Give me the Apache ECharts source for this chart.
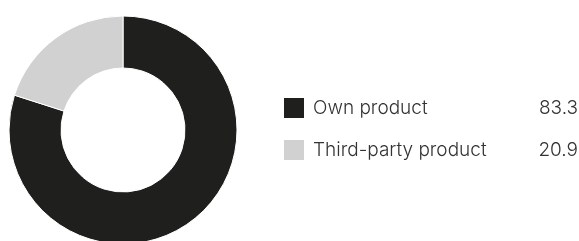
<!DOCTYPE html>
<html>
<head>
<meta charset="utf-8">
<script src="https://cdn.jsdelivr.net/npm/echarts@6/dist/echarts.min.js"></script>
<style>
	html, body { margin: 0; padding: 0; background: #fff; }
	#chart { width: 579px; height: 241px; }
</style>
</head>
<body>
<div id="chart"></div>
<script>
const categories = ["Own product", "Third-party product"]
const values = [83.3, 20.9]
const colors = ["#1f1f1e", "#d1d1d1"]

let chartDom = document.getElementById("chart")
let donutChart = echarts.init(chartDom, null, { renderer: "canvas" })
let option = {
	animation: false,
	color: colors,
	legend: {
		orient: "vertical",
		left: 282,
		top: 96,
		padding: 0,
		itemWidth: 22,
		itemHeight: 22,
		itemGap: 18,
		icon: "rect",
		selectedMode: false,
		data: categories,
		formatter: function(name) {
			let idx = categories.indexOf(name)
			return "{n|" + name + "}{v|" + values[idx].toFixed(1) + "}"
		},
		textStyle: {
			rich: {
				n: {
					width: 226,
					padding: [0, 0, 0, 3],
					fontSize: 19,
					fontFamily: "Inter",
					fontWeight: 300,
					color: "#333",
				},
				v: {
					width: 39,
					align: "right",
					fontSize: 19,
					fontFamily: "Inter",
					fontWeight: 300,
					color: "#333",
				},
			},
		},
	},
	series: [
		{
			type: "pie",
			center: [123, 130],
			radius: [62, 114],
			startAngle: 90,
			clockwise: true,
			label: { show: false },
			labelLine: { show: false },
			emphasis: { disabled: true },
			itemStyle: {
				borderColor: "#fff",
				borderWidth: 1,
			},
			data: categories.map((c, i) => ({ name: c, value: values[i] })),
		},
	],
}
donutChart.setOption(option)
</script>
</body>
</html>
